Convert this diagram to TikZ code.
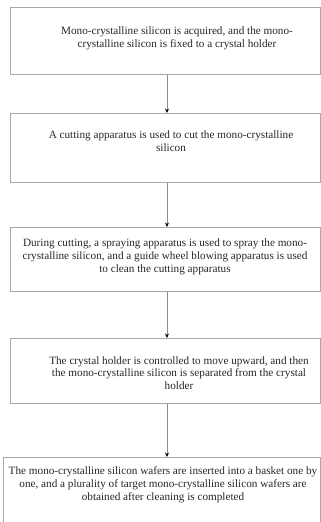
\documentclass[tikz,border=0pt]{standalone}
\usepackage{fontspec}
\setmainfont{Liberation Serif}
\usetikzlibrary{arrows.meta}
\definecolor{boxgray}{HTML}{A8A8A8}
\definecolor{linegray}{HTML}{8C8C8C}
\begin{document}
\begin{tikzpicture}[x=1pt,y=-1pt,
  box/.style={draw=boxgray, line width=0.8pt, inner sep=0pt, anchor=north west},
  txt/.style={align=center, font=\fontsize{11.2}{12.8}\selectfont, text=black!85, inner sep=0pt},
  arr/.style={draw=linegray, line width=0.7pt, -{Stealth[length=4.5pt,width=4pt,black]}}]
\useasboundingbox (0,0) rectangle (321,522);
\clip (0,0) rectangle (321,522);
\node[box, minimum width=310, minimum height=67] (b1) at (10,7) {};
\node[box, minimum width=310, minimum height=69] (b2) at (10,113) {};
\node[box, minimum width=310, minimum height=64] (b3) at (10,227) {};
\node[box, minimum width=310, minimum height=65] (b4) at (10,338) {};
\node[box, minimum width=317, minimum height=80] (b5) at (3,457) {};
\node[txt] (t1) at (177,38) {Mono-crystalline silicon is acquired, and the mono-\\crystalline silicon is fixed to a crystal holder};
\node[txt] (t2) at (171,141) {A cutting apparatus is used to cut the mono-crystalline\\silicon};
\node[txt] (t3) at (165,257) {During cutting, a spraying apparatus is used to spray the mono-\\crystalline silicon, and a guide wheel blowing apparatus is used\\to clean the cutting apparatus};
\node[txt] (t4) at (179,373) {The crystal holder is controlled to move upward, and then\\the mono-crystalline silicon is separated from the crystal\\holder};
\node[txt] (t5) at (163,485) {The mono-crystalline silicon wafers are inserted into a basket one by\\one, and a plurality of target mono-crystalline silicon wafers are\\obtained after cleaning is completed};
\coordinate (ax) at (167,0);
\draw[arr] (b1.south -| ax) -- (b2.north -| ax);
\draw[arr] (b2.south -| ax) -- (b3.north -| ax);
\draw[arr] (b3.south -| ax) -- (b4.north -| ax);
\draw[arr] (b4.south -| ax) -- (b5.north -| ax);
\end{tikzpicture}
\end{document}
